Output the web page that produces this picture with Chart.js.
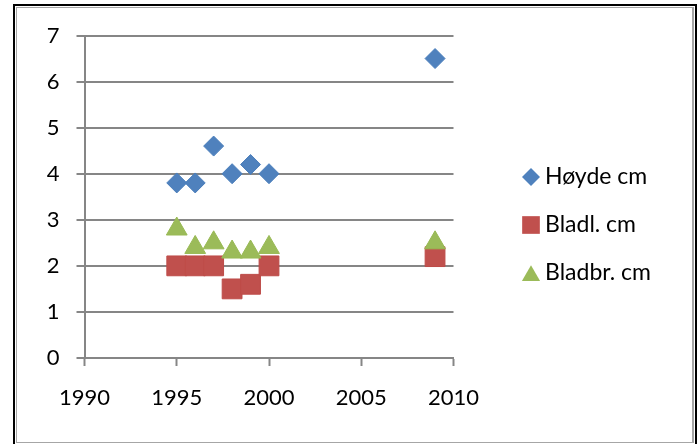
<!DOCTYPE html>
<html>
<head>
<meta charset="utf-8">
<script src="https://cdn.jsdelivr.net/npm/chart.js@4/dist/chart.umd.min.js"></script>
<style>
  html, body { margin: 0; padding: 0; background: #fff; }
  #wrap { position: relative; width: 700px; height: 444px; overflow: hidden; }
  #outer { position: absolute; left: 13px; top: 4px; width: 680px; height: 470px; border: 2px solid #000; }
  #inner { position: absolute; left: 16px; top: 7px; width: 675px; height: 434px;
           border: 1px solid #a6a6a6; border-right-width: 2px; }
  canvas { position: absolute; left: 0; top: 0; }
</style>
</head>
<body>
<div id="wrap">
  <div id="outer"></div>
  <div id="inner"></div>
  <canvas id="chart" width="700" height="444"></canvas>
</div>
<script>
// Measurements per year
const years = [1995, 1996, 1997, 1998, 1999, 2000, 2009];
const hoyde = [3.8, 3.8, 4.6, 4.0, 4.2, 4.0, 6.5];
const bladLengde = [2.0, 2.0, 2.0, 1.5, 1.6, 2.0, 2.2];
const bladBredde = [2.8, 2.4, 2.5, 2.3, 2.3, 2.4, 2.5];
const seriesNames = ['Høyde cm', 'Bladl. cm', 'Bladbr. cm'];

// Axis ticks
const xTicks = [1990, 1995, 2000, 2005, 2010];
const yTicks = [0, 1, 2, 3, 4, 5, 6, 7];

const FONT = 'Lato';
const AXIS_GREY = '#868686';

const toPoints = vals => vals.map((v, i) => ({ x: years[i], y: v }));

// Marker shapes (same geometry as Chart.js point styles)
function drawMarker(ctx, style, x, y, r, color) {
  ctx.beginPath();
  if (style === 'rectRot') {
    ctx.moveTo(x - r, y); ctx.lineTo(x, y - r); ctx.lineTo(x + r, y); ctx.lineTo(x, y + r);
  } else if (style === 'rect') {
    const s = Math.SQRT1_2 * r;
    ctx.rect(x - s, y - s, 2 * s, 2 * s);
  } else if (style === 'triangle') {
    const yc = y + r / 4; // centre the triangle's box on the row
    ctx.moveTo(x, yc - r);
    ctx.lineTo(x + 0.866 * r, yc + 0.5 * r);
    ctx.lineTo(x - 0.866 * r, yc + 0.5 * r);
  }
  ctx.closePath();
  ctx.fillStyle = color;
  ctx.fill();
}

// Legend drawn as a column on the right
const sideLegend = {
  id: 'sideLegend',
  afterDraw(chart, args, opts) {
    const ctx = chart.ctx;
    ctx.save();
    ctx.font = opts.font;
    ctx.textBaseline = 'middle';
    ctx.textAlign = 'left';
    chart.data.datasets.forEach((ds, i) => {
      const y = opts.top + i * opts.spacing;
      drawMarker(ctx, ds.pointStyle, opts.markerX, y, opts.radius[ds.pointStyle], ds.backgroundColor);
      ctx.fillStyle = '#000';
      ctx.fillText(ds.label, opts.textX, y);
    });
    ctx.restore();
  }
};

new Chart(document.getElementById('chart'), {
  type: 'scatter',
  data: {
    datasets: [
      { label: seriesNames[0], data: toPoints(hoyde), pointStyle: 'rectRot', pointRadius: 10,
        backgroundColor: '#4F81BD', borderColor: '#4A7EBB', borderWidth: 1, order: 2 },
      { label: seriesNames[1], data: toPoints(bladLengde), pointStyle: 'rect', pointRadius: 14,
        backgroundColor: '#C0504D', borderColor: '#BE4B48', borderWidth: 1, order: 1 },
      { label: seriesNames[2], data: toPoints(bladBredde), pointStyle: 'triangle', pointRadius: 12,
        backgroundColor: '#9BBB59', borderColor: '#98B954', borderWidth: 1, order: 0 }
    ]
  },
  options: {
    responsive: false,
    animation: false,
    events: [],
    layout: { padding: { left: 24.5, top: 35.5, right: 246.5, bottom: 26 } },
    scales: {
      x: {
        type: 'linear',
        min: xTicks[0],
        max: xTicks[xTicks.length - 1],
        afterBuildTicks: s => { s.ticks = xTicks.map(v => ({ value: v })); },
        afterFit: s => { s.height = 60; },
        grid: { drawOnChartArea: false, drawTicks: true, tickLength: 8, tickWidth: 2, tickColor: AXIS_GREY },
        border: { display: true, color: AXIS_GREY, width: 2 },
        ticks: { color: '#000', font: { family: FONT, size: 22 }, padding: 19, maxRotation: 0,
                 callback: v => String(v) }
      },
      y: {
        type: 'linear',
        min: yTicks[0],
        max: yTicks[yTicks.length - 1],
        afterBuildTicks: s => { s.ticks = yTicks.map(v => ({ value: v })); },
        afterFit: s => { s.width = 60; },
        grid: { color: AXIS_GREY, lineWidth: 2, drawTicks: true, tickLength: 8 },
        border: { display: true, color: AXIS_GREY, width: 2 },
        ticks: { color: '#000', font: { family: FONT, size: 22 }, padding: 17,
                 callback: v => String(v) }
      }
    },
    plugins: {
      legend: { display: false },
      tooltip: { enabled: false },
      sideLegend: {
        markerX: 531, textX: 545, top: 177, spacing: 48,
        font: '23px ' + FONT,
        radius: { rectRot: 9, rect: 12.5, triangle: 10.5 }
      }
    }
  },
  plugins: [sideLegend]
});
</script>
</body>
</html>
